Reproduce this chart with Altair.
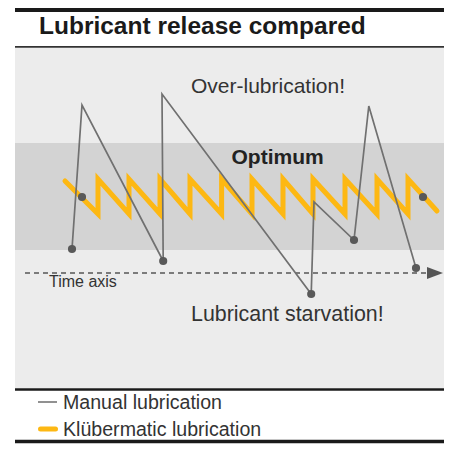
import altair as alt
import pandas as pd

# ---------------- data (time units, lubricant level units) ----------------
# Manual lubrication: dose (low point) -> jump up -> decay
manual_time = [16, 18.5, 38.8, 38.5, 75.8, 76.5, 86.5, 90.2, 102]
manual_level = [12, 84, 6, 89.5, -10.5, 35.5, 16.5, 83.5, 2.5]
manual_dot = [True, False, True, False, True, False, True, False, True]

# Klübermatic lubrication: small frequent doses (saw-tooth)
kluber_time = [14.25, 22.5, 22.5, 30.25, 30.25, 38, 38, 45.5, 45.5, 53.4, 53.4,
               61, 61, 68.75, 68.75, 76.25, 76.25, 84.25, 84.25, 92.25, 92.25,
               100, 100, 107.25]
kluber_level = [46, 29.5, 47, 29.5, 47, 29.5, 47, 29.5, 47, 29.5, 47,
                29.5, 47, 29.5, 47, 29.5, 47, 29.5, 47, 29.5, 47,
                29.5, 47, 31]
kluber_marker_time = [18.5, 103.75]
kluber_marker_level = [38, 38]

optimum_range = [11.5, 65]
time_axis_span = [4.25, 104.75]
time_axis_arrow = [106.75]

labels = ["Over-lubrication!", "Lubricant starvation!", "Time axis"]
label_time = [45.75, 45.75, 10.25]
label_level = [90.25, -24, -7.2]
label_size = [21, 21.4, 16]

title_text = "Lubricant release compared"
optimum_text = "Optimum"
legend_labels = ["Manual lubrication", "Klübermatic lubrication"]

# ---------------- styling ----------------
FONT = "Liberation Sans"
YELLOW = "#FDB813"
GREY_LINE = "#707070"
DOT = "#595959"
W, H = 436, 440
LEFT = 7

xs = alt.Scale(domain=[0, 109], nice=False, zero=False)
ys = alt.Scale(domain=[-87.5, 132.5], nice=False, zero=False)


def one():
    return pd.DataFrame({"k": [0]})


panel = alt.Chart(one()).mark_rect(color="#ececec").encode(
    x=alt.value(LEFT), x2=alt.value(W), y=alt.value(39.5), y2=alt.value(380))

band_df = pd.DataFrame({"low": [optimum_range[0]], "high": [optimum_range[1]]})
band = alt.Chart(band_df).mark_rect(color="#d3d3d3").encode(
    x=alt.value(LEFT), x2=alt.value(W),
    y=alt.Y("low:Q", scale=ys, axis=None), y2="high:Q")

axis_df = pd.DataFrame({"t0": [time_axis_span[0]], "t1": [time_axis_span[1]], "lvl": [0]})
time_axis = alt.Chart(axis_df).mark_rule(color="#555555", strokeWidth=1.3, strokeDash=[5, 4]).encode(
    x=alt.X("t0:Q", scale=xs, axis=None), x2="t1:Q",
    y=alt.Y("lvl:Q", scale=ys, axis=None))

arrow_df = pd.DataFrame({"t": time_axis_arrow, "lvl": [0]})
arrow = alt.Chart(arrow_df).mark_point(
    shape="M-1,-0.75L1,0L-1,0.75Z", size=256, filled=True, color="#555555", opacity=1
).encode(x=alt.X("t:Q", scale=xs, axis=None), y=alt.Y("lvl:Q", scale=ys, axis=None))

kdf = pd.DataFrame({"time": kluber_time, "level": kluber_level,
                    "idx": list(range(len(kluber_time)))})
kline = alt.Chart(kdf).mark_line(color=YELLOW, strokeWidth=5, strokeCap="round",
                                 strokeJoin="miter").encode(
    x=alt.X("time:Q", scale=xs, axis=None), y=alt.Y("level:Q", scale=ys, axis=None),
    order="idx:Q")

mdf = pd.DataFrame({"time": manual_time, "level": manual_level, "dot": manual_dot,
                    "idx": list(range(len(manual_time)))})
mline = alt.Chart(mdf).mark_line(color=GREY_LINE, strokeWidth=1.7).encode(
    x=alt.X("time:Q", scale=xs, axis=None), y=alt.Y("level:Q", scale=ys, axis=None),
    order="idx:Q")
mdots = alt.Chart(mdf[mdf["dot"]]).mark_circle(size=66, color=DOT, opacity=1).encode(
    x=alt.X("time:Q", scale=xs, axis=None), y=alt.Y("level:Q", scale=ys, axis=None))

kmdf = pd.DataFrame({"time": kluber_marker_time, "level": kluber_marker_level})
kdots = alt.Chart(kmdf).mark_circle(size=66, color=DOT, opacity=1).encode(
    x=alt.X("time:Q", scale=xs, axis=None), y=alt.Y("level:Q", scale=ys, axis=None))

ldf = pd.DataFrame({"text": labels, "time": label_time, "level": label_level, "size": label_size})
ann = alt.Chart(ldf).mark_text(font=FONT, color="#333333", align="left",
                               baseline="alphabetic").encode(
    x=alt.X("time:Q", scale=xs, axis=None), y=alt.Y("level:Q", scale=ys, axis=None),
    text="text:N", size=alt.Size("size:Q", scale=None, legend=None))

odf = pd.DataFrame({"text": [optimum_text], "time": [67.4], "level": [54.5]})
opt = alt.Chart(odf).mark_text(font=FONT, fontWeight="bold", fontSize=21, color="#222222",
                               align="center", baseline="alphabetic").encode(
    x=alt.X("time:Q", scale=xs, axis=None), y=alt.Y("level:Q", scale=ys, axis=None),
    text="text:N")

title = alt.Chart(pd.DataFrame({"text": [title_text]})).mark_text(
    font=FONT, fontWeight="bold", fontSize=24.5, color="#1a1a1a", align="left",
    baseline="alphabetic").encode(x=alt.value(31), y=alt.value(25.5), text="text:N")


def hline(y, w, color="#1a1a1a"):
    return alt.Chart(one()).mark_rule(color=color, strokeWidth=w).encode(
        x=alt.value(LEFT), x2=alt.value(W), y=alt.value(y))


lines = [hline(2, 4), hline(38.8, 1.8, "#333333"), hline(381.5, 2.6), hline(433.5, 3.6)]

leg_manual = alt.Chart(one()).mark_rule(color="#555555", strokeWidth=1.3).encode(
    x=alt.value(30), x2=alt.value(49), y=alt.value(394))
leg_kluber = alt.Chart(one()).mark_rule(color=YELLOW, strokeWidth=5, strokeCap="round").encode(
    x=alt.value(32.5), x2=alt.value(47.5), y=alt.value(421))
leg_text = alt.Chart(pd.DataFrame({"text": legend_labels, "yy": [401, 428]})).mark_text(
    font=FONT, fontSize=19.6, color="#333333", align="left", baseline="alphabetic").encode(
    x=alt.value(55), y=alt.Y("yy:Q", scale=None, axis=None), text="text:N")

chart = alt.layer(
    panel, band, time_axis, arrow, kline, mline, mdots, kdots, ann, opt, title,
    *lines, leg_manual, leg_kluber, leg_text
).properties(
    width=W, height=H, padding=0, autosize=alt.AutoSizeParams(type="none"),
    background="white"
).configure_view(stroke=None)

chart.save("out.html", embed_options={"renderer": "svg", "actions": False})
